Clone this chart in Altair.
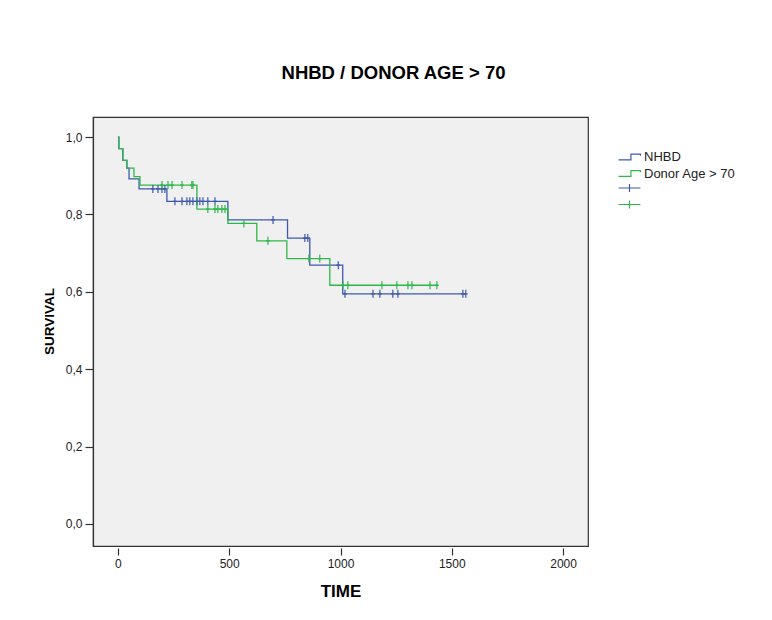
import altair as alt
import pandas as pd
import numpy as np

FONT = "Liberation Sans, Arial, sans-serif"

title_text = "NHBD / DONOR AGE > 70"
groups = ["NHBD", "Donor Age > 70"]
cens_groups = ["NHBD censored", "Donor Age > 70 censored"]
colors = ["#3E58AC", "#2EB848"]

x_ticks = [0, 500, 1000, 1500, 2000]
y_ticks = [0.0, 0.2, 0.4, 0.6, 0.8, 1.0]

# NHBD step function (time of drop, survival after drop)
nhbd_times = [0, 4, 22, 40, 50, 95, 220, 494, 762, 862, 1010]
nhbd_surv = [1.0, 0.97, 0.94, 0.92, 0.892, 0.866, 0.834, 0.786, 0.739, 0.669, 0.595]
nhbd_end = 1563
nhbd_censored = [157, 180, 198, 211, 256, 288, 310, 323, 337, 355, 368, 382, 404, 436,
                 697, 840, 853, 990, 1020, 1146, 1177, 1235, 1258, 1550, 1563]

# Donor Age > 70 step function
donor_times = [0, 4, 22, 40, 72, 99, 355, 494, 624, 759, 952]
donor_surv = [1.0, 0.97, 0.94, 0.92, 0.898, 0.876, 0.814, 0.777, 0.732, 0.686, 0.617]
donor_end = 1440
donor_censored = [198, 225, 243, 288, 332, 337, 404, 436, 449, 467, 481, 566, 674,
                  858, 907, 1011, 1033, 1186, 1253, 1303, 1321, 1402, 1433]


def step_rows(name, times, surv, end):
    rows = [{"group": name, "time": t, "surv": s} for t, s in zip(times, surv)]
    rows.append({"group": name, "time": end, "surv": surv[-1]})
    return rows


def cens_rows(name, times, surv, cens):
    rows = []
    for c in cens:
        i = int(np.searchsorted(times, c, side="right")) - 1
        rows.append({"cgroup": name, "time": c, "surv": surv[i]})
    return rows


line_df = pd.DataFrame(step_rows(groups[0], nhbd_times, nhbd_surv, nhbd_end)
                       + step_rows(groups[1], donor_times, donor_surv, donor_end))
cens_df = pd.DataFrame(cens_rows(cens_groups[0], nhbd_times, nhbd_surv, nhbd_censored)
                       + cens_rows(cens_groups[1], donor_times, donor_surv, donor_censored))

step_path = "M-1.9,0.5L0.25,0.5L0.25,-0.5L1.9,-0.5L1.9,-0.2"
big_plus = "M-1.9,0L1.9,0M0,-0.7L0,0.7"
small_plus = "M-0.5,0L0.5,0M0,-1L0,1"

x_scale = alt.Scale(domain=[-112, 2112], nice=False, zero=False)
y_scale = alt.Scale(domain=[-0.057, 1.052], nice=False, zero=False)

x_enc = alt.X("time:Q", scale=x_scale, axis=alt.Axis(
    title="TIME", values=x_ticks, grid=False, domain=False, offset=2,
    tickSize=7, tickColor="#333", tickWidth=1.2, format="d",
    labelFont=FONT, labelFontSize=12, labelColor="#222", labelPadding=3,
    titleFont=FONT, titleFontSize=17, titleFontWeight="bold", titleColor="black",
    titlePadding=14))
y_enc = alt.Y("surv:Q", scale=y_scale, axis=alt.Axis(
    title="SURVIVAL", values=y_ticks, grid=False, domain=True, domainColor="#333",
    domainWidth=1.2, tickSize=8, tickColor="#333", tickWidth=1.2,
    labelExpr="replace(format(datum.value, '.1f'), '.', ',')",
    labelFont=FONT, labelFontSize=12, labelColor="#222", labelPadding=3,
    titleFont=FONT, titleFontSize=13.5, titleFontWeight="bold", titleColor="black",
    titlePadding=9, titleY=204))

lines = alt.Chart(line_df).mark_line(interpolate="step-after", strokeWidth=1.3).encode(
    x=x_enc, y=y_enc,
    color=alt.Color("group:N", scale=alt.Scale(domain=groups, range=colors),
                    legend=alt.Legend(title=None, orient="none", legendX=530, legendY=33.5,
                                      symbolType=step_path, symbolSize=132,
                                      symbolStrokeWidth=1.2, symbolFillColor="transparent",
                                      labelFont=FONT, labelFontSize=13, labelColor="#222",
                                      labelOffset=8, rowPadding=2.5, padding=0)),
)

points = alt.Chart(cens_df).mark_point(shape=small_plus, filled=False, size=64,
                                       strokeWidth=1.2, opacity=1).encode(
    x="time:Q", y="surv:Q",
    color=alt.Color("cgroup:N", scale=alt.Scale(domain=cens_groups, range=colors),
                    legend=alt.Legend(title=None, orient="none", legendX=530, legendY=64.5,
                                      symbolType=big_plus, symbolSize=132,
                                      symbolStrokeWidth=1.2, symbolFillColor="transparent",
                                      labelExpr="''", labelFontSize=13,
                                      labelOffset=8, rowPadding=2.5, padding=0)),
)

chart = alt.layer(lines, points).resolve_scale(color="independent").properties(
    width=495, height=429,
    title=alt.TitleParams(title_text, font=FONT, fontSize=18.5, fontWeight="bold",
                          color="black", anchor="middle", dx=53, offset=35),
    autosize=alt.AutoSizeParams(type="none"),
    padding={"left": 85, "top": 109, "right": 176, "bottom": 66},
    background="white",
).configure_view(fill="#f0f0f0", stroke="#333", strokeWidth=1.2)

chart.save("out.html", embed_options={"renderer": "svg", "actions": False})
